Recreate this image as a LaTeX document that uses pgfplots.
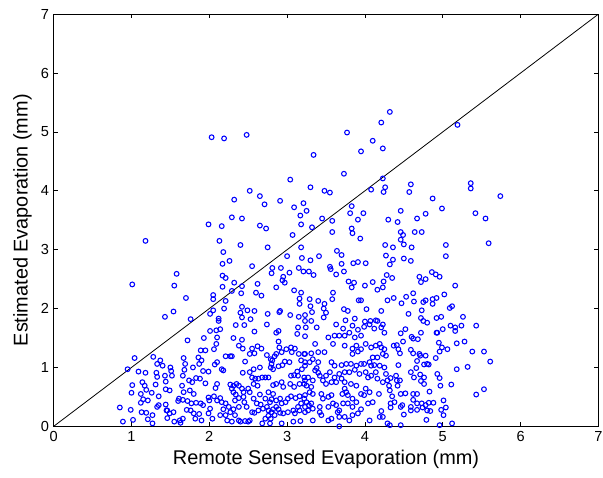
\documentclass[border=0pt]{standalone}
\usepackage{pgfplots}
\pgfplotsset{compat=1.18}
\usepackage{fontspec}
\setmainfont{Liberation Sans}
\begin{document}
\begin{tikzpicture}
\begin{axis}[name=ax,
  scale only axis, width=411pt, height=311pt,
  xmin=0, xmax=7, ymin=0, ymax=7,
  xtick={0,1,...,7}, ytick={0,1,...,7},
  tick align=inside, major tick length=3pt,
  axis line style={line width=0.8pt}, tick style={line width=0.6pt,black},
  /pgf/number format/assume math mode=true,
  tick label style={font=\fontsize{11}{13}\selectfont},
  label style={font=\fontsize{15}{18}\selectfont},
  xlabel={Remote Sensed Evaporation (mm)},
  ylabel={Estimated Evaporation (mm)},
  xlabel style={yshift=0pt},
  ylabel style={yshift=0pt},
  clip=true,
]
\addplot[black, line width=0.6pt] coordinates {(0,0) (7,7)};
\addplot[only marks, mark=o, color=blue, mark size=1.8pt, mark options={line width=0.8pt}] table {
x y
1.18 3.15
1.99 3.43
2.16 3.40
2.13 3.15
2.18 2.96
2.17 2.76
2.03 4.91
2.19 4.89
2.48 4.95
3.77 4.99
3.95 4.67
3.34 4.61
3.73 4.29
3.04 4.19
3.30 4.06
3.48 4.00
3.55 3.97
2.52 4.00
2.32 3.85
2.65 3.91
2.71 3.77
2.91 3.83
3.09 3.72
3.21 3.79
3.17 3.58
3.25 3.66
3.83 3.74
3.81 3.62
3.98 3.62
3.91 3.51
2.29 3.55
2.42 3.53
2.65 3.41
2.73 3.36
3.18 3.43
3.32 3.38
3.45 3.53
3.58 3.49
3.58 3.30
3.83 3.36
3.84 3.28
3.94 3.19
3.07 3.25
2.40 3.08
2.75 3.04
3.18 3.04
3.64 2.98
3.70 2.91
2.26 2.81
2.55 2.72
3.00 2.89
3.19 2.86
3.30 2.82
3.41 2.89
3.55 2.71
3.70 2.76
3.85 2.77
3.91 2.79
4.01 2.77
2.81 2.69
2.92 2.69
3.15 2.69
4.32 5.34
4.21 5.16
5.19 5.12
4.10 4.85
4.23 4.72
4.23 4.21
4.08 4.02
4.26 4.06
4.24 3.98
4.59 4.11
4.57 3.98
5.36 4.13
5.36 4.04
5.74 3.91
4.87 3.87
4.99 3.70
4.46 3.66
4.78 3.61
4.67 3.53
4.30 3.51
4.42 3.47
5.42 3.62
5.55 3.53
4.46 3.30
4.49 3.25
4.46 3.17
4.50 3.09
4.64 3.30
4.73 3.30
4.26 3.08
4.36 3.04
4.60 3.04
5.04 3.08
5.59 3.11
4.27 2.90
4.36 2.83
4.32 2.75
4.50 2.85
4.59 2.81
5.04 2.89
1.01 2.41
1.58 2.59
1.55 2.39
1.70 2.18
1.54 1.95
1.43 1.86
1.76 1.82
1.72 1.46
1.04 1.16
0.95 0.97
1.28 1.18
1.09 0.93
1.18 0.91
1.33 1.06
1.37 1.12
1.40 1.03
1.50 1.00
1.51 0.94
1.52 0.86
1.32 0.91
1.33 0.84
1.43 0.86
1.67 1.16
1.69 1.06
1.68 0.96
1.66 0.86
1.79 1.00
1.86 1.17
1.90 1.12
1.87 1.06
1.92 0.94
1.99 0.93
1.89 1.29
1.95 1.29
1.93 1.50
2.01 1.62
2.09 1.63
2.06 1.31
2.09 1.40
2.10 1.51
2.12 1.83
2.01 1.91
2.05 1.97
2.07 1.05
2.10 1.09
1.14 0.75
1.17 0.69
1.12 0.55
1.15 0.46
1.12 0.40
1.19 0.62
1.26 0.57
1.21 0.44
1.31 0.71
1.44 0.76
1.44 0.63
1.49 0.61
1.35 0.51
1.35 0.36
1.33 0.33
1.13 0.24
1.19 0.23
1.21 0.12
1.27 0.19
1.27 0.05
1.46 0.27
1.54 0.24
1.46 0.14
1.55 0.08
1.63 0.06
1.66 0.13
1.65 0.69
1.67 0.58
1.74 0.78
1.78 0.75
1.75 0.61
1.80 0.55
1.61 0.47
1.66 0.45
1.60 0.43
1.72 0.43
1.77 0.39
1.83 0.40
1.89 0.39
1.92 0.36
1.71 0.28
1.76 0.27
1.80 0.22
1.87 0.21
1.82 0.13
1.90 0.10
1.99 0.22
2.01 0.30
2.04 0.13
1.44 0.37
1.45 0.27
1.49 0.22
1.62 0.10
1.83 0.82
1.88 0.81
1.95 0.73
2.10 0.72
2.08 0.65
2.06 0.51
1.99 0.49
2.00 0.44
2.10 0.44
0.85 0.32
0.89 0.08
0.99 0.28
1.02 0.11
1.01 0.70
1.00 0.57
2.05 2.23
2.05 2.16
2.80 2.60
2.95 2.54
2.94 2.48
2.97 2.44
3.03 2.61
3.21 2.63
3.28 2.63
3.34 2.57
3.56 2.67
3.63 2.58
3.73 2.63
3.79 2.46
3.83 2.36
3.86 2.44
4.00 2.39
4.10 2.45
4.24 2.46
2.17 2.56
2.21 2.52
2.32 2.44
2.17 2.37
2.29 2.30
2.42 2.38
2.41 2.26
2.62 2.42
2.60 2.27
2.67 2.22
2.86 2.36
3.09 2.31
3.18 2.27
3.16 2.17
3.16 2.08
3.29 2.16
3.30 2.04
3.40 2.13
3.48 2.08
3.59 2.27
3.58 2.16
3.47 2.00
3.50 1.93
3.47 1.85
2.21 2.13
2.19 2.00
2.42 2.03
2.40 1.93
2.42 1.85
2.49 1.97
2.58 1.96
2.53 1.82
2.75 1.91
2.90 1.94
2.91 1.96
3.04 1.89
3.15 1.86
3.23 1.89
3.32 1.94
3.23 1.79
3.31 1.79
3.73 1.99
3.78 1.96
3.92 2.14
3.95 2.14
4.02 1.99
3.75 1.80
3.87 1.83
4.00 1.78
4.07 1.79
4.14 1.80
2.12 1.79
2.14 1.65
2.34 1.72
2.45 1.72
2.74 1.73
2.86 1.59
2.89 1.62
3.14 1.68
3.13 1.57
3.23 1.53
2.58 1.61
2.31 1.50
2.42 1.47
2.38 1.37
2.43 1.32
2.55 1.32
2.62 1.36
2.67 1.32
2.58 1.24
2.52 1.23
2.89 1.44
2.90 1.34
2.99 1.31
3.05 1.34
3.10 1.32
3.06 1.26
2.93 1.26
2.86 1.23
2.84 1.19
2.74 1.21
2.79 1.14
2.81 1.12
2.80 1.06
2.79 1.00
2.82 0.97
2.89 1.02
2.94 1.04
2.97 1.10
3.03 1.09
3.15 1.23
3.22 1.23
3.18 1.12
3.23 1.03
3.19 0.97
3.13 0.93
3.09 0.87
3.05 0.86
3.14 0.86
3.22 0.83
2.21 1.19
2.27 1.19
2.29 1.19
2.46 1.10
2.57 0.97
2.65 1.00
2.52 0.92
2.43 0.91
2.16 0.97
2.18 0.95
2.55 0.83
2.59 0.81
2.63 0.81
2.68 0.83
2.72 0.83
2.57 0.72
2.62 0.69
2.76 0.83
2.82 0.70
2.86 0.72
2.93 0.75
2.95 0.67
3.04 0.72
3.09 0.67
3.16 0.72
3.22 0.72
2.27 0.71
2.31 0.69
2.35 0.72
2.38 0.69
2.42 0.64
2.44 0.58
2.50 0.64
2.52 0.58
2.29 0.64
2.31 0.58
2.34 0.54
2.38 0.48
2.33 0.44
2.44 0.50
2.45 0.41
2.57 0.47
2.65 0.54
2.76 0.58
2.82 0.55
2.72 0.47
2.78 0.41
2.80 0.46
2.86 0.44
2.91 0.47
2.93 0.39
2.98 0.41
3.01 0.47
3.05 0.51
3.11 0.48
3.16 0.51
3.22 0.47
3.18 0.39
2.14 0.48
2.16 0.41
2.21 0.39
2.25 0.33
2.18 0.29
2.21 0.19
2.14 0.19
2.27 0.24
2.31 0.29
2.33 0.19
2.23 0.10
2.29 0.08
2.38 0.10
2.40 0.08
2.46 0.09
2.50 0.08
2.52 0.10
2.55 0.24
2.58 0.23
2.63 0.27
2.69 0.30
2.74 0.33
2.76 0.27
2.80 0.24
2.82 0.29
2.86 0.33
2.89 0.29
2.91 0.23
2.95 0.22
2.84 0.19
2.76 0.18
2.72 0.13
2.79 0.13
2.68 0.05
2.78 0.05
2.93 0.05
3.01 0.24
3.08 0.27
3.10 0.22
3.16 0.27
3.23 0.24
3.14 0.33
3.08 0.08
3.17 0.09
2.61 0.39
2.66 0.37
2.48 0.33
2.38 0.33
3.24 1.68
3.38 1.68
3.63 1.73
3.72 1.66
3.84 1.71
3.91 1.64
3.99 1.69
4.06 1.73
4.12 1.66
4.21 1.68
4.23 1.73
4.25 1.59
3.95 1.54
3.80 1.59
3.87 1.51
3.53 1.51
3.61 1.54
3.67 1.54
3.74 1.54
3.59 1.40
3.36 1.40
3.74 1.37
3.84 1.32
3.89 1.37
3.91 1.27
3.84 1.23
3.95 1.31
4.01 1.40
4.08 1.34
4.14 1.37
4.19 1.40
4.21 1.34
4.25 1.31
4.23 1.23
4.27 1.20
4.10 1.17
4.16 1.17
3.23 1.23
3.31 1.24
3.40 1.26
3.48 1.26
3.33 1.14
3.29 1.09
3.23 1.09
3.40 1.09
3.57 1.09
3.61 1.03
3.70 1.04
3.76 1.06
3.82 1.06
3.89 1.03
3.95 1.06
3.99 1.06
4.06 1.09
4.08 1.03
4.12 1.04
4.19 1.03
4.25 1.00
3.38 0.99
3.36 0.95
3.40 0.91
3.42 0.86
3.27 0.83
3.23 0.78
3.33 0.78
3.50 0.86
3.55 0.92
3.61 0.83
3.67 0.89
3.74 0.92
3.80 0.92
3.87 0.96
3.93 0.89
4.01 0.92
4.04 0.83
4.08 0.86
4.14 0.92
4.27 0.89
4.16 0.81
4.23 0.75
4.29 0.78
3.46 0.78
3.50 0.72
3.57 0.75
3.63 0.75
3.70 0.81
3.74 0.75
3.82 0.72
3.89 0.69
3.74 0.64
3.76 0.58
3.71 0.55
3.78 0.53
3.84 0.47
3.95 0.55
3.99 0.53
4.01 0.64
4.06 0.58
4.18 0.55
3.25 0.69
3.31 0.67
3.29 0.58
3.33 0.55
3.23 0.53
3.44 0.55
3.46 0.47
3.53 0.50
3.57 0.53
3.25 0.41
3.28 0.36
3.31 0.39
3.23 0.33
3.27 0.27
3.33 0.30
3.42 0.33
3.53 0.33
3.59 0.39
3.63 0.36
3.67 0.27
3.65 0.24
3.72 0.39
3.78 0.39
3.84 0.33
3.89 0.41
3.95 0.29
4.04 0.39
4.10 0.41
4.21 0.26
4.23 0.16
3.42 0.24
3.44 0.19
3.53 0.10
3.57 0.13
3.67 0.16
3.74 0.16
3.80 0.10
3.84 0.19
3.91 0.22
4.06 0.10
4.19 0.16
3.33 0.10
3.67 0.00
4.29 0.05
4.28 2.57
4.35 2.52
4.16 2.32
4.23 2.36
4.70 2.54
4.72 2.45
4.78 2.50
4.86 2.62
4.91 2.58
4.96 2.54
5.16 2.39
4.29 2.14
4.37 2.18
4.47 2.09
4.53 2.20
4.62 2.26
4.63 2.12
4.75 2.11
4.78 2.14
4.87 2.16
4.92 2.18
4.87 2.08
5.02 2.24
5.09 2.01
5.12 2.04
4.21 1.96
4.56 1.91
4.73 1.97
4.72 1.84
4.75 1.79
4.80 1.76
4.92 1.84
4.98 1.86
5.26 1.86
5.43 1.71
5.10 1.71
5.16 1.68
5.24 1.71
5.16 1.62
5.00 1.65
4.92 1.59
4.93 1.59
4.52 1.65
4.46 1.58
4.16 1.79
4.60 1.52
4.62 1.49
4.68 1.48
4.72 1.59
4.49 1.44
4.41 1.38
4.37 1.37
4.43 1.31
4.45 1.24
4.95 1.42
5.18 1.41
5.28 1.44
4.99 1.34
4.96 1.27
5.06 1.31
5.38 1.27
5.53 1.27
5.61 1.10
5.32 1.01
5.18 0.97
4.59 1.30
4.62 1.24
4.70 1.23
4.71 1.20
4.78 1.20
4.80 1.06
4.82 1.05
4.76 1.05
4.91 1.16
4.67 1.11
4.66 0.99
4.43 1.04
4.59 0.92
4.63 0.83
4.71 0.88
4.76 0.83
4.72 0.77
4.76 0.72
4.93 0.89
4.96 0.82
4.97 0.69
5.11 0.71
4.83 0.59
4.33 0.82
4.40 0.86
4.41 0.78
4.45 0.78
4.42 0.69
4.31 0.69
4.32 0.61
4.46 0.55
4.35 0.51
4.52 0.56
4.62 0.55
4.67 0.55
4.62 0.45
5.01 0.44
5.43 0.54
5.53 0.63
4.33 0.39
4.38 0.41
4.48 0.36
4.59 0.33
4.67 0.39
4.73 0.39
4.78 0.36
4.82 0.40
4.88 0.40
4.33 0.32
4.46 0.33
4.59 0.27
4.67 0.28
4.74 0.32
4.80 0.27
4.84 0.26
4.98 0.28
5.04 0.32
4.50 0.20
5.01 0.19
4.79 0.11
4.32 0.02
4.46 0.02
4.96 0.02
5.12 0.05
};
\end{axis}
\pgfresetboundingbox
\path[use as bounding box] ([xshift=-40.5pt,yshift=-38.6pt]ax.south west) rectangle ([xshift=3.5pt,yshift=10.7pt]ax.north east);
\end{tikzpicture}
\end{document}
